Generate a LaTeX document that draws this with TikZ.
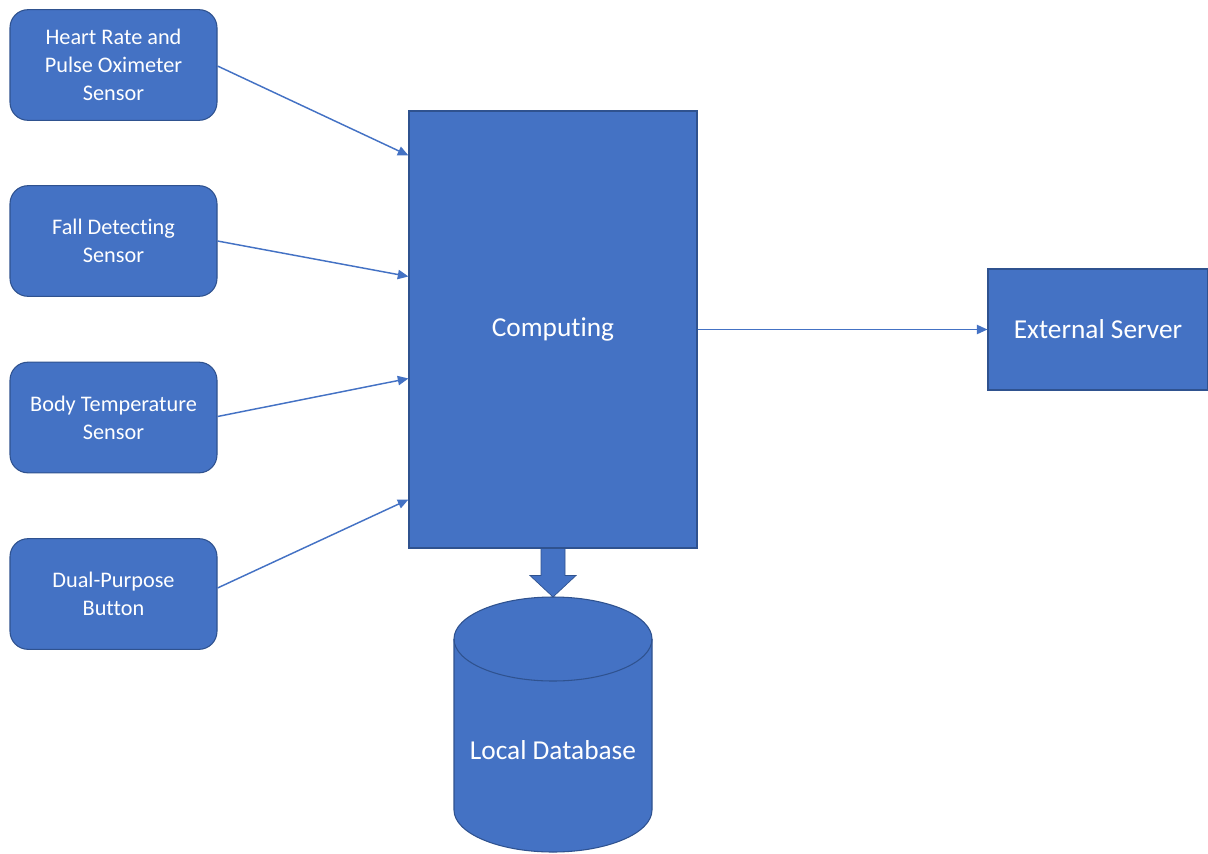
\documentclass[tikz,border=0pt]{standalone}
\usepackage{fontspec}
\setmainfont{Carlito}[Ligatures=NoCommon]
\usetikzlibrary{arrows.meta,calc}
\definecolor{fillblue}{HTML}{4472C4}
\definecolor{edgeblue}{HTML}{2F528F}
\tikzset{
  sensorbox/.style={draw=edgeblue, line width=0.8pt, fill=fillblue, rounded corners=13.5pt,
    minimum width=155.25pt, minimum height=83pt, align=center, text=white,
    font=\fontsize{16.7}{21}\selectfont, inner sep=0pt},
  bigbox/.style={draw=edgeblue, line width=0.8pt, fill=fillblue, text=white,
    font=\fontsize{20.5}{24}\selectfont, inner sep=0pt},
  conn/.style={draw=fillblue, line width=1.1pt, -{Triangle[length=8pt,width=7pt]}},
}
\begin{document}
\begin{tikzpicture}[x=0.75pt,y=-0.75pt]
\useasboundingbox (0,0) rectangle (1208,854);
% sensors
\node[sensorbox] (heart) at (113.5,65) {Heart Rate and\\Pulse Oximeter\\Sensor};
\node[sensorbox] (fall) at (113.5,241) {Fall Detecting\\Sensor};
\node[sensorbox] (body) at (113.5,417.5) {Body Temperature\\Sensor};
\node[sensorbox] (dual) at (113.5,594) {Dual-Purpose\\Button};
% computing and server
\node[bigbox, minimum width=216pt, minimum height=327.75pt] (comp) at (553,329.5) {Computing};
\node[bigbox, minimum width=165pt, minimum height=90.75pt] (ext) at (1098,329.5) {External Server};
% connectors
\draw[conn] ($(heart.east)+(0,1)$) -- ($(comp.north west)+(0,45)$);
\draw[conn] (fall.east) -- ($(comp.north west)+(0,166)$);
\draw[conn] ($(body.east)+(0,-1)$) -- ($(comp.north west)+(0,268)$);
\draw[conn] ($(dual.east)+(0,-6)$) -- ($(comp.north west)+(0,389)$);
\draw[conn] (comp.east) -- (ext.west);
% database cylinder
\draw[draw=edgeblue, line width=0.8pt, fill=fillblue]
  (454,810) arc[start angle=180, end angle=360, x radius=74.25pt, y radius=31.5pt]
  -- (652,639) arc[start angle=0, end angle=180, x radius=74.25pt, y radius=31.5pt]
  -- cycle;
\draw[draw=edgeblue, line width=0.8pt]
  (454,639) arc[start angle=180, end angle=360, x radius=74.25pt, y radius=31.5pt];
\coordinate (dbtop) at (553,597);
\node[text=white, font=\fontsize{20.5}{24}\selectfont, inner sep=0pt] (db) at (553,750) {Local Database};
% block arrow
\fill[fillblue, draw=edgeblue, line width=0.5pt]
  ($(comp.south)+(-12,0)$) -- ($(comp.south)+(12,0)$) -- ($(comp.south)+(12,27)$)
  -- ($(comp.south)+(23,27)$) -- (dbtop) -- ($(comp.south)+(-23,27)$)
  -- ($(comp.south)+(-12,27)$) -- cycle;
\end{tikzpicture}
\end{document}
